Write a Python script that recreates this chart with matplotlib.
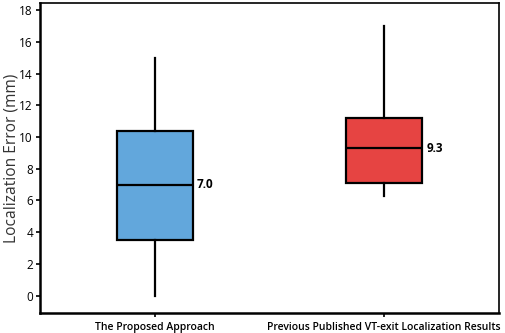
import matplotlib
matplotlib.use("Agg")
import matplotlib.pyplot as plt

# values
groups = ["The Proposed Approach", "Previous Published VT-exit Localization Results"]
whislo = [0.0, 6.3]
q1 = [3.5, 7.1]
med = [7.0, 9.3]
q3 = [10.4, 11.2]
whishi = [15.0, 17.0]
box_colors = ["#62a7dc", "#e64442"]

plt.rcParams["font.family"] = ["Open Sans", "DejaVu Sans"]

fig = plt.figure(figsize=(5.05, 3.33), dpi=100)
ax = fig.add_axes([0.079, 0.06, 0.909, 0.931])

stats = []
for i, name in enumerate(groups):
    stats.append({"label": name, "whislo": whislo[i], "q1": q1[i], "med": med[i],
                  "q3": q3[i], "whishi": whishi[i], "fliers": []})

width = 0.33
bp = ax.bxp(stats, positions=[1, 2], widths=width, patch_artist=True,
            showcaps=False, showfliers=False,
            boxprops=dict(linewidth=1.6, edgecolor="black"),
            medianprops=dict(color="black", linewidth=1.6),
            whiskerprops=dict(color="black", linewidth=1.6))
for patch, c in zip(bp["boxes"], box_colors):
    patch.set_facecolor(c)

for i, m in enumerate(med):
    ax.text(i + 1 + width / 2 + 0.02, m, f"{m:.1f}", va="center", ha="left",
            fontsize=8.5, fontweight="bold")

ax.set_xlim(0.5, 2.5)
ax.set_ylim(-1.1, 18.45)
ax.set_yticks(range(0, 19, 2))
ax.set_xticks([1, 2])
ax.set_xticklabels(groups, fontsize=7.5, fontweight="semibold")
ax.tick_params(axis="y", labelsize=8.5, length=3, width=1.2, pad=2)
ax.tick_params(axis="x", length=3, width=1.2)
ax.set_ylabel("Localization Error (mm)", fontsize=11.2, color="#333333", labelpad=0)

ax.spines["left"].set_linewidth(1.8)
ax.spines["bottom"].set_linewidth(1.8)
ax.spines["top"].set_linewidth(1.2)
ax.spines["right"].set_linewidth(1.2)

fig.savefig("out.png", dpi=100)
